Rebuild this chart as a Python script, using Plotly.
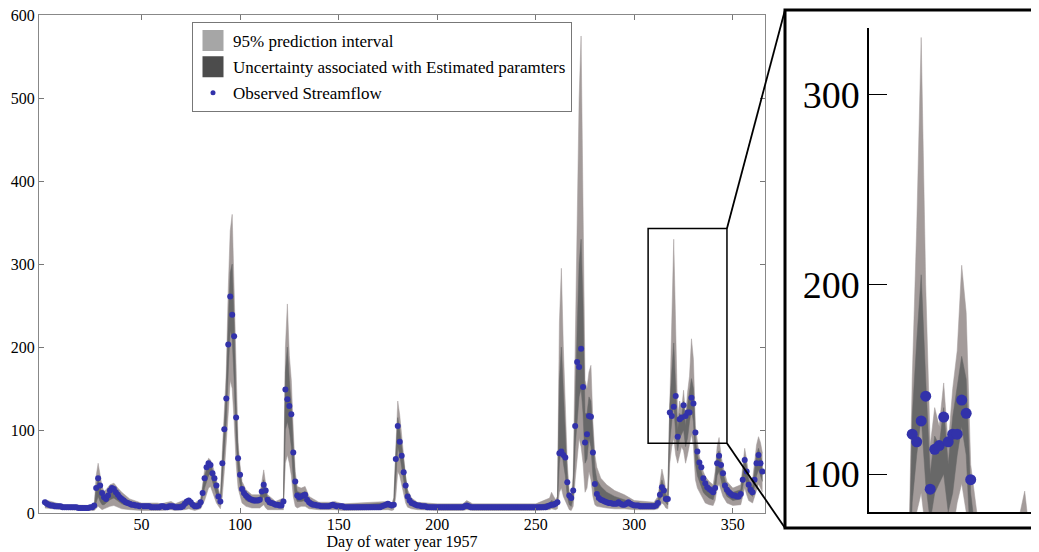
import plotly.graph_objects as go

# ---------------- data ----------------
days = list(range(1, 366))

observed = (
    [13, 11, 10, 9, 9, 8, 8, 8, 8, 7, 7, 7, 7, 7, 7, 7, 7, 6, 6, 6, 6, 6, 6, 7, 7, 9]          # 1-26
    + [30, 42, 33, 24, 19, 17, 21, 27, 30, 29, 25, 22, 19, 17, 15, 13, 12, 11, 10, 10, 9, 9, 8, 8]  # 27-50
    + [8, 8, 8, 8, 7, 7, 7, 7, 7, 8, 8, 7, 7, 8, 8, 8, 7, 7, 7, 7]                              # 51-70
    + [8, 11, 14, 15, 13, 10, 8, 8, 9, 13, 24, 42, 55, 60, 58, 48, 42, 33, 20, 14]              # 71-90
    + [60, 101, 138, 203, 261, 239, 213, 115, 66, 46, 29, 24, 21, 19, 17, 16, 15, 15, 15, 16]   # 91-110
    + [26, 34, 27, 16, 13, 12, 11, 10, 10, 9, 9, 14, 149, 137, 129, 119, 73, 38, 21, 19]        # 111-130
    + [20, 21, 22, 16, 13, 11, 10, 10, 9, 9, 8, 8, 8, 8, 8, 9, 10, 9, 8, 8]                     # 131-150
    + [8, 8, 7, 7, 7, 7, 7, 7, 7, 7, 7, 7, 7, 7, 7, 7, 7, 7, 7, 7]                              # 151-170
    + [7, 8, 9, 10, 11, 10, 9, 10, 65, 105, 86, 69, 49, 33, 20, 15, 12, 11, 10, 9]              # 171-190
    + [9, 8, 8, 8, 7, 7, 7, 7, 7, 7, 7, 7, 7, 7, 7, 7, 7, 7, 7, 7]                              # 191-210
    + [7, 7, 7, 8, 9, 8, 7, 7, 7, 7, 7, 7, 7, 7, 7, 7, 7, 7, 7, 7]                              # 211-230
    + [7, 7, 7, 7, 7, 7, 7, 7, 7, 7, 7, 7, 7, 7, 7, 7, 7, 7, 7, 7]                              # 231-250
    + [7, 7, 7, 7, 7, 8, 9, 10, 10, 11, 13, 72, 74, 70, 67, 37, 21, 18, 27, 105]                # 251-270
    + [182, 176, 198, 152, 85, 95, 117, 116, 73, 35, 23, 18, 16, 15, 14, 13, 12, 12, 11, 11]    # 271-290
    + [11, 13, 11, 10, 10, 11, 13, 11, 10, 9, 9, 9, 8, 8, 8, 8, 8, 8, 8, 8]                     # 291-310
    + [9, 12, 22, 31, 27, 17, 17, 121, 117, 128, 141, 92, 113, 115, 130, 117, 121, 121, 139, 132]  # 311-330
    + [97, 74, 61, 55, 42, 36, 31, 29, 27, 25, 30, 60, 69, 58, 48, 33, 28, 25, 23, 21]          # 331-350
    + [21, 20, 20, 23, 40, 64, 50, 34, 28, 25, 40, 60, 70, 60, 50]                              # 351-365
)
assert len(observed) == len(days), len(observed)

band_day = [1, 10, 26, 27, 28, 29, 30, 31, 32, 34, 36, 38, 40, 44, 50, 58, 60, 65, 67, 72, 74, 77,
            80, 82, 84, 85, 86, 88, 90, 91, 92, 93, 94, 95, 96, 97, 98, 99, 100, 101, 103, 106,
            110, 111, 112, 113, 114, 118, 122, 123, 124, 125, 126, 127, 128, 129, 131, 133, 135,
            140, 146, 148, 152, 175, 177, 178, 179, 180, 181, 182, 183, 184, 185, 187, 190, 200,
            213, 215, 218, 250, 257, 258, 260, 261, 262, 263, 264, 265, 266, 267, 268, 269, 270,
            271, 272, 273, 274, 275, 276, 277, 278, 279, 280, 281, 283, 286, 290, 295, 300, 310,
            312, 313, 314, 315, 316, 317, 318, 319, 320, 321, 322, 323, 324, 325, 326, 327, 328,
            329, 330, 331, 332, 333, 334, 335, 336, 338, 340, 341, 342, 343, 344, 345, 347, 350,
            354, 355, 356, 357, 358, 360, 361, 362, 363, 364, 365]
pi_low = [6, 4, 3, 5, 8, 6, 4, 5, 6, 8, 9, 7, 5, 4, 3, 3, 3, 4, 3, 4, 5, 3,
          5, 15, 30, 32, 25, 12, 5, 20, 50, 80, 120, 160, 150, 110, 60, 30, 20, 12, 8, 6,
          6, 8, 10, 6, 4, 4, 4, 60, 70, 60, 45, 20, 8, 6, 8, 8, 5,
          4, 4, 4, 3, 4, 3, 4, 20, 50, 45, 35, 22, 12, 7, 5, 4, 3,
          3, 4, 3, 3, 4, 5, 4, 5, 25, 30, 20, 15, 8, 4, 3, 8, 40,
          70, 90, 80, 60, 25, 30, 50, 40, 20, 10, 8, 7, 6, 5, 5, 4, 4,
          5, 8, 12, 10, 6, 5, 60, 80, 90, 70, 60, 70, 80, 75, 60, 70, 85,
          95, 80, 40, 30, 25, 20, 15, 12, 10, 9, 15, 30, 35, 28, 20, 12, 9,
          10, 20, 30, 22, 15, 12, 20, 30, 35, 30, 25]
par_low = [9, 6, 5, 12, 20, 14, 10, 10, 12, 16, 18, 14, 11, 8, 6, 6, 6, 7, 6, 8, 10, 6,
           9, 30, 45, 48, 38, 22, 10, 40, 75, 110, 170, 220, 210, 160, 90, 50, 35, 22, 15, 12,
           12, 16, 20, 14, 10, 8, 8, 100, 110, 100, 80, 40, 20, 14, 14, 15, 10,
           7, 7, 7, 6, 7, 6, 8, 40, 80, 70, 55, 38, 24, 14, 10, 7, 6,
           6, 7, 6, 6, 7, 9, 8, 10, 60, 80, 60, 45, 20, 10, 8, 18, 80,
           110, 140, 150, 120, 60, 65, 90, 80, 45, 25, 18, 14, 12, 10, 9, 8, 7,
           9, 16, 22, 18, 12, 10, 85, 110, 130, 95, 75, 90, 95, 100, 80, 90, 110,
           125, 110, 60, 45, 38, 32, 25, 22, 18, 16, 25, 45, 50, 40, 30, 20, 15,
           17, 30, 45, 35, 24, 20, 32, 45, 52, 45, 38]
par_high = [13, 8, 7, 30, 42, 30, 22, 18, 20, 28, 30, 25, 20, 14, 10, 9, 9, 10, 9, 13, 15, 10,
            14, 45, 60, 60, 52, 35, 16, 62, 110, 150, 230, 290, 300, 230, 130, 75, 50, 33, 24, 19,
            18, 30, 40, 28, 18, 12, 14, 170, 200, 160, 130, 80, 40, 26, 24, 26, 16,
            11, 11, 11, 9, 12, 10, 14, 70, 115, 100, 80, 58, 38, 24, 16, 11, 9,
            9, 12, 9, 9, 12, 15, 13, 16, 160, 200, 150, 100, 45, 20, 16, 35, 140,
            220, 300, 330, 250, 120, 120, 140, 135, 90, 55, 40, 32, 25, 20, 16, 12, 11,
            15, 30, 40, 32, 22, 20, 130, 170, 205, 150, 100, 120, 115, 135, 105, 130, 145,
            162, 150, 90, 70, 58, 50, 42, 36, 30, 28, 40, 70, 75, 60, 48, 32, 25,
            28, 48, 68, 55, 40, 32, 50, 70, 78, 70, 58]
pi_high = [16, 10, 9, 45, 60, 45, 32, 26, 28, 34, 36, 30, 25, 17, 12, 12, 11, 14, 11, 16, 18, 12,
           17, 52, 66, 64, 58, 40, 20, 75, 125, 170, 270, 340, 360, 270, 150, 85, 58, 38, 28, 22,
           22, 40, 52, 35, 22, 14, 18, 200, 252, 190, 160, 100, 50, 32, 30, 32, 20,
           13, 13, 14, 11, 14, 12, 18, 90, 135, 118, 92, 65, 44, 28, 18, 13, 11,
           11, 15, 11, 11, 18, 25, 16, 20, 230, 295, 200, 140, 60, 26, 20, 45, 200,
           330, 500, 575, 380, 160, 150, 170, 178, 110, 70, 55, 42, 34, 27, 22, 15, 13,
           20, 40, 53, 42, 28, 30, 150, 230, 330, 200, 115, 135, 125, 148, 115, 145, 165,
           210, 185, 105, 85, 68, 60, 50, 44, 38, 34, 50, 80, 91, 70, 56, 38, 30,
           34, 58, 78, 64, 46, 40, 60, 82, 92, 85, 72]
for arr in (pi_low, par_low, par_high, pi_high):
    assert len(arr) == len(band_day), (len(arr), len(band_day))

x_ticks = [50, 100, 150, 200, 250, 300, 350]
y_ticks = [0, 100, 200, 300, 400, 500, 600]
inset_ticks = [100, 200, 300]

# ---------------- layout constants ----------------
# The page body has an 8px margin, so the figure is placed at (8, 8) in the window.
OFF = 8
W, H = 1039 - OFF, 552 - OFF


def fx(px):  # window pixel -> paper x
    return (px - OFF) / W


def fy(py):  # window pixel -> paper y
    return 1 - (py - OFF) / H


main_xdom = [fx(39), fx(765)]
main_ydom = [fy(513), fy(15)]
main_xr = [-2.0, 366.3]
main_yr = [0, 600.3]
inset_xdom = [fx(869), 1.0]
inset_ydom = [fy(512), fy(28)]
inset_xr = [308.4, 308.4 + (1039 - 869) / 4.5]
inset_yr = [80, 335]
box = dict(x0=307, x1=347, y0=84, y1=343)   # zoom rectangle in the main axes

PI_COL = "#a39b9a"
PAR_COL = "#686868"
DOT_COL = "#3232aa"
SERIF = "Liberation Serif, Times New Roman, serif"

fig = go.Figure()


def add_bands(xa, ya):
    fig.add_trace(go.Scatter(x=band_day, y=pi_low, mode="lines", line=dict(color=PI_COL, width=0.5),
                             showlegend=False, hoverinfo="skip", xaxis=xa, yaxis=ya))
    fig.add_trace(go.Scatter(x=band_day, y=pi_high, mode="lines", line=dict(color=PI_COL, width=0.5),
                             fill="tonexty", fillcolor=PI_COL, showlegend=False, hoverinfo="skip",
                             xaxis=xa, yaxis=ya))
    fig.add_trace(go.Scatter(x=band_day, y=par_low, mode="lines", line=dict(color=PAR_COL, width=0.5),
                             showlegend=False, hoverinfo="skip", xaxis=xa, yaxis=ya))
    fig.add_trace(go.Scatter(x=band_day, y=par_high, mode="lines", line=dict(color=PAR_COL, width=0.5),
                             fill="tonexty", fillcolor=PAR_COL, showlegend=False, hoverinfo="skip",
                             xaxis=xa, yaxis=ya))


add_bands("x", "y")
fig.add_trace(go.Scatter(x=days, y=observed, mode="markers",
                         marker=dict(color=DOT_COL, size=6), showlegend=False, xaxis="x", yaxis="y"))
add_bands("x2", "y2")
fig.add_trace(go.Scatter(x=days, y=observed, mode="markers",
                         marker=dict(color=DOT_COL, size=11), showlegend=False, xaxis="x2", yaxis="y2"))

# legend entries
fig.add_trace(go.Scatter(x=[None], y=[None], mode="markers", name="95% prediction interval",
                         legendgroup="a",
                         marker=dict(symbol="square", size=16, color="#a6a6a6",
                                     line=dict(color="#a6a6a6", width=5))))
fig.add_trace(go.Scatter(x=[None], y=[None], mode="markers",
                         name="Uncertainty associated with Estimated paramters", legendgroup="b",
                         marker=dict(symbol="square", size=16, color="#4c4c4c",
                                     line=dict(color="#4c4c4c", width=5))))
fig.add_trace(go.Scatter(x=[None], y=[None], mode="markers", name="Observed Streamflow",
                         legendgroup="c", marker=dict(color=DOT_COL, size=5)))


def main_to_paper(xd, yd):
    px = main_xdom[0] + (xd - main_xr[0]) / (main_xr[1] - main_xr[0]) * (main_xdom[1] - main_xdom[0])
    py = main_ydom[0] + (yd - main_yr[0]) / (main_yr[1] - main_yr[0]) * (main_ydom[1] - main_ydom[0])
    return px, py


frame = dict(x0=fx(785), x1=1.03, y0=fy(528), y1=fy(10))

shapes = [
    dict(type="rect", xref="x", yref="y", **box, line=dict(color="black", width=1.5)),
    dict(type="rect", xref="paper", yref="paper", **frame, line=dict(color="black", width=3)),
]
tx, ty = main_to_paper(box["x1"], box["y1"])
bx, by = main_to_paper(box["x1"], box["y0"])
shapes.append(dict(type="line", xref="paper", yref="paper", x0=tx, y0=ty,
                   x1=frame["x0"], y1=frame["y1"], line=dict(color="black", width=1.8)))
shapes.append(dict(type="line", xref="paper", yref="paper", x0=bx, y0=by,
                   x1=frame["x0"], y1=frame["y0"], line=dict(color="black", width=1.8)))

axis_common = dict(showgrid=False, zeroline=False, automargin=False, ticklabeloverflow="allow")

fig.update_layout(
    width=W, height=H, autosize=False,
    margin=dict(l=0, r=0, t=0, b=0),
    paper_bgcolor="white", plot_bgcolor="white",
    font=dict(family=SERIF, color="black", size=16),
    shapes=shapes,
    xaxis=dict(domain=main_xdom, range=main_xr, tickvals=x_ticks, ticks="inside", ticklen=5,
               tickcolor="#777", showline=True, linecolor="#888", linewidth=1, mirror="ticks",
               tickfont=dict(size=16, family=SERIF), ticklabelstandoff=-3,
               title=dict(text="Day of water year 1957", font=dict(size=16, family=SERIF), standoff=1),
               **axis_common),
    yaxis=dict(domain=main_ydom, range=main_yr, tickvals=y_ticks, ticks="inside", ticklen=5,
               tickcolor="#777", showline=True, linecolor="#888", linewidth=1, mirror="ticks",
               tickfont=dict(size=16, family=SERIF), **axis_common),
    xaxis2=dict(domain=inset_xdom, range=inset_xr, anchor="y2", showticklabels=False, ticks="",
                showline=True, linecolor="black", linewidth=1.5, **axis_common),
    yaxis2=dict(domain=inset_ydom, range=inset_yr, anchor="x2", tickvals=inset_ticks,
                ticks="inside", ticklen=18, tickcolor="black", tickwidth=1.2,
                showline=True, linecolor="black", linewidth=1.5, ticklabelstandoff=0,
                tickfont=dict(size=38, family=SERIF), **axis_common),
    legend=dict(x=fx(192), y=fy(22), xanchor="left", yanchor="top",
                bgcolor="white", bordercolor="#777", borderwidth=1,
                font=dict(size=17, family=SERIF), traceorder="grouped", tracegroupgap=1,
                itemsizing="trace"),
)

fig.write_html("out.html")
